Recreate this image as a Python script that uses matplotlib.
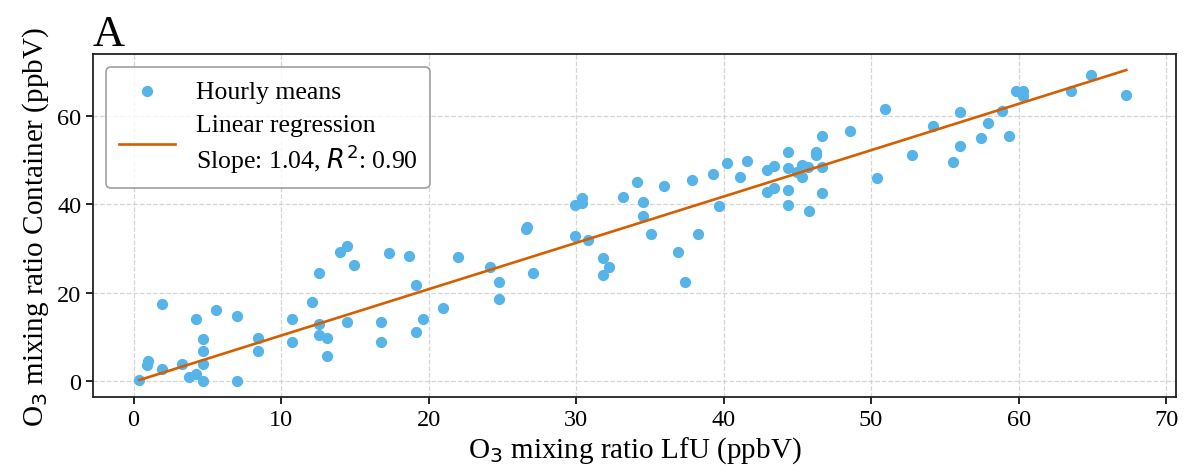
import numpy as np
import matplotlib
matplotlib.use('Agg')
import matplotlib.pyplot as plt

plt.rcParams['font.family'] = ['Liberation Serif', 'DejaVu Serif']

# hourly means
o3_lfu = [0.4, 0.9, 1.0, 1.9, 1.9, 3.3, 3.75, 4.25, 4.25, 4.7, 4.7, 4.7, 4.7, 5.6, 7.0, 7.0,
          8.45, 8.45, 10.75, 10.75, 12.1, 12.6, 12.6, 12.6, 13.1, 13.1, 14.0, 14.5, 14.95, 14.5,
          16.8, 16.8, 17.3, 18.7, 19.15, 19.15, 19.65, 21.0, 21.98, 24.2, 24.8, 24.8, 26.6, 26.65,
          27.1, 29.93, 30.4, 30.4, 29.93, 30.83, 31.8, 32.2, 31.8, 33.16, 34.1, 34.55, 34.55,
          35.05, 35.98, 36.9, 37.38, 37.87, 38.3, 39.25, 39.72, 40.2, 41.1, 41.6, 42.95, 43.4,
          42.95, 43.4, 44.34, 44.34, 44.34, 44.34, 45.3, 45.7, 45.3, 44.95, 45.8, 46.25, 46.25,
          46.7, 46.7, 46.7, 48.56, 50.93, 50.43, 52.8, 54.2, 55.55, 56.06, 56.06, 57.43, 57.93,
          58.87, 59.35, 59.8, 60.3, 60.3, 63.53, 64.93, 67.3]
o3_container = [0.3, 3.6, 4.6, 17.4, 2.8, 3.9, 1.0, 1.6, 14.2, 0.0, 4.0, 6.9, 9.5, 16.1, 14.7, 0.0,
                9.7, 6.9, 14.2, 9.0, 17.9, 24.4, 13.0, 10.4, 9.9, 5.8, 29.3, 30.6, 26.3, 13.3,
                13.3, 8.9, 29.0, 28.4, 21.8, 11.2, 14.1, 16.5, 28.0, 25.8, 22.5, 18.7, 34.4, 34.9,
                24.4, 39.85, 41.4, 40.2, 32.8, 32.0, 27.8, 25.8, 24.1, 41.6, 45.1, 40.6, 37.4,
                33.3, 44.1, 29.15, 22.4, 45.4, 33.2, 46.85, 39.7, 49.3, 46.1, 49.8, 47.8, 48.7,
                42.85, 43.8, 51.75, 48.1, 43.35, 39.75, 48.9, 48.4, 46.2, 47.2, 38.55, 51.75, 51.1,
                55.4, 48.5, 42.6, 56.6, 61.5, 45.9, 51.1, 57.8, 49.6, 60.9, 53.2, 54.9, 58.4,
                61.1, 55.5, 65.7, 65.7, 64.4, 65.7, 69.3, 64.7]

# regression line as drawn in the reference
reg_slope = 1.047
reg_intercept = -0.12

x = np.array(o3_lfu)
y = np.array(o3_container)
xfit = np.array([x.min(), x.max()])

fig = plt.figure(figsize=(11.84, 4.77), dpi=100)
ax = fig.add_axes([0.0785, 0.165, 0.9145, 0.72])

ax.scatter(x, y, s=50, color='#56B4E9', label='Hourly means', zorder=3)
ax.plot(xfit, reg_slope * xfit + reg_intercept, color='#D55E00', linewidth=1.9,
        label='Linear regression\nSlope: 1.04, $R^2$: 0.90', zorder=4)

ax.set_xlim(-2.75, 70.65)
ax.set_ylim(-3.6, 74)
ax.set_xticks([0, 10, 20, 30, 40, 50, 60, 70])
ax.set_yticks([0, 20, 40, 60])
ax.tick_params(labelsize=17.5, length=5, width=1.2)
ax.grid(True, linestyle='--', color='#cccccc', linewidth=0.9, alpha=0.8)
for sp in ax.spines.values():
    sp.set_linewidth(1.3)
    sp.set_color('#222222')

ax.set_xlabel('O$_3$ mixing ratio LfU (ppbV)', fontsize=21, labelpad=3)
ax.set_ylabel('O$_3$ mixing ratio Container (ppbV)', fontsize=21, labelpad=4)
ax.set_title('A', loc='left', fontsize=32, pad=6)

leg = ax.legend(loc='upper left', fontsize=18.5, frameon=True, edgecolor='#888888',
                borderpad=0.5, handlelength=2.2, labelspacing=0.45)
leg.get_frame().set_linewidth(1.2)

fig.savefig('out.png', dpi=100)
